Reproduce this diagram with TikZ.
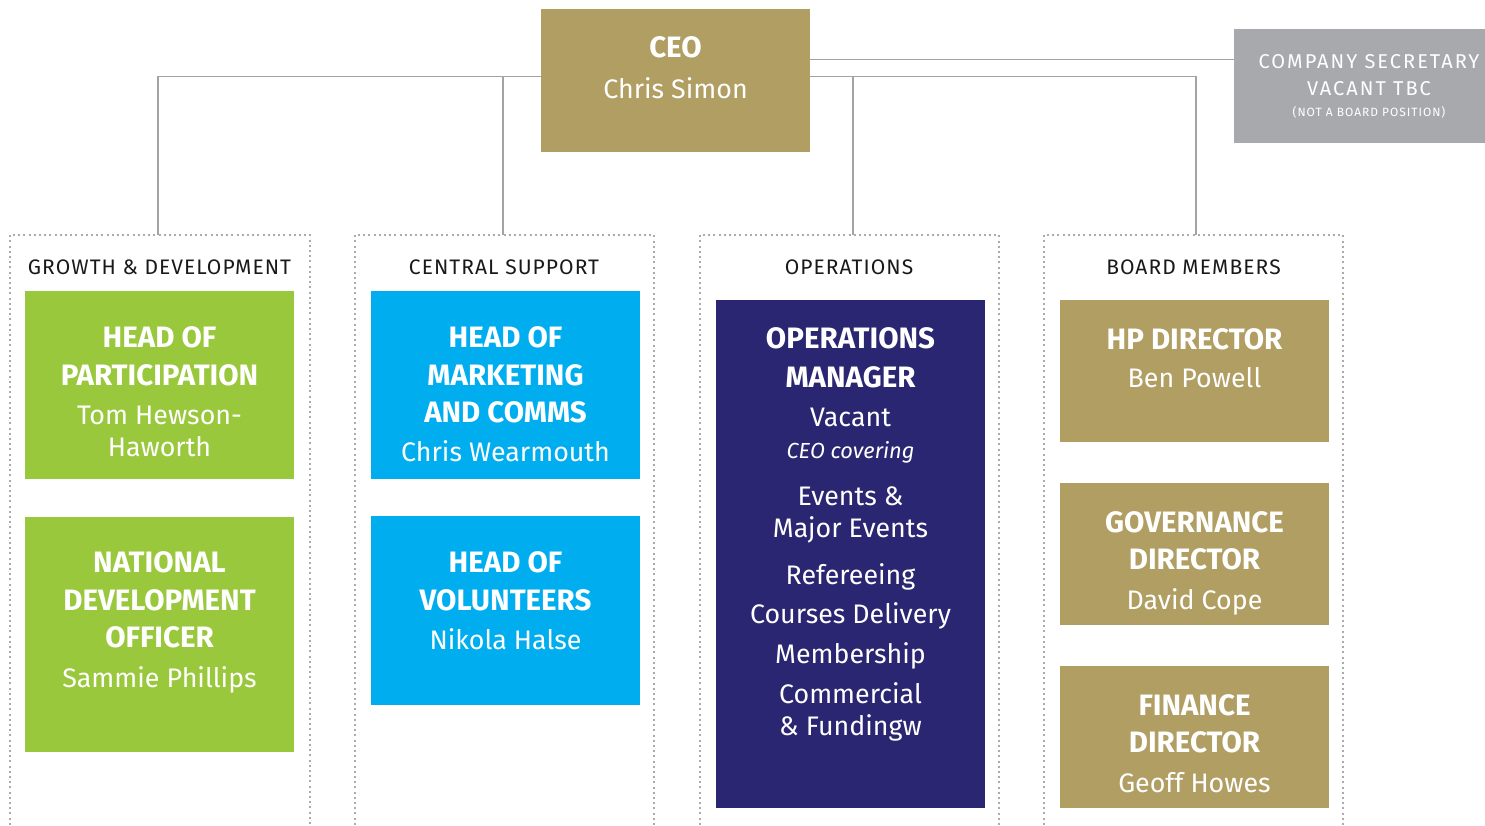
\documentclass[tikz,border=0pt]{standalone}
\usepackage{fontspec}
\setmainfont{Fira Sans}
\definecolor{gold}{HTML}{B19E63}
\definecolor{lgreen}{HTML}{9AC83D}
\definecolor{cyanb}{HTML}{00AEEF}
\definecolor{navy}{HTML}{2B2671}
\definecolor{secgray}{HTML}{A8A9AC}
\definecolor{linegray}{HTML}{A3A3A3}
\definecolor{dotgray}{HTML}{ABABAB}
\tikzset{
  box/.style={draw=none, inner sep=0pt, anchor=north west, minimum width=269pt},
  conn/.style={draw=linegray, line width=1.3pt},
  grpframe/.style={draw=dotgray, line width=2pt, dash pattern=on 2pt off 3.2pt},
  ttl/.style={anchor=base, text=white, inner sep=0pt, font=\fontsize{29.5}{31}\selectfont\bfseries},
  nm/.style={anchor=base, text=white, inner sep=0pt, font=\fontsize{26.8}{28}\selectfont},
  grp/.style={anchor=base, text=black!90, inner sep=0pt, font=\fontsize{21}{23}\selectfont\addfontfeature{LetterSpace=5}},
  sectxt/.style={anchor=base, text=white, inner sep=0pt, font=\fontsize{20}{22}\selectfont\addfontfeature{LetterSpace=10}},
  secsmall/.style={anchor=base, text=white, inner sep=0pt, font=\fontsize{12}{14}\selectfont\addfontfeature{LetterSpace=8}},
}
\begin{document}
\begin{tikzpicture}[x=1pt, y=-1pt]
\useasboundingbox (0,0) rectangle (1485,825);
\clip (0,0) rectangle (1485,825);
% group frames
\draw[grpframe] (10,830) -- (10,235) -- (310,235) -- (310,830);
\draw[grpframe] (355,830) -- (355,235) -- (654,235) -- (654,830);
\draw[grpframe] (700,830) -- (700,235) -- (999,235) -- (999,830);
\draw[grpframe] (1044,830) -- (1044,235) -- (1343,235) -- (1343,830);
\coordinate (j1) at (158,235);
\coordinate (j2) at (503,235);
\coordinate (j3) at (853,235);
\coordinate (j4) at (1196,235);
% boxes
\node[box, fill=gold, minimum height=143pt] (ceo) at (541,9) {};
\node[box, fill=secgray, minimum width=251pt, minimum height=114pt] (sec) at (1234,29) {};
% connectors
\draw[conn] ([yshift=4.5pt]ceo.west) -| (j1);
\draw[conn] ([yshift=4.5pt]ceo.west) -| (j2);
\draw[conn] ([yshift=4.5pt]ceo.east) -| (j3);
\draw[conn] ([yshift=4.5pt]ceo.east) -| (j4);
\draw[conn] ([yshift=21.5pt]ceo.east) -- ([yshift=21.5pt]ceo.east -| sec.west);
\node[box, fill=gold, minimum height=143pt] (ceo2) at (541,9) {};
\node[box, fill=lgreen, minimum height=188pt] (hop) at (25,291) {};
\node[box, fill=lgreen, minimum height=235pt] (ndo) at (25,517) {};
\node[box, fill=cyanb, minimum height=188pt] (hom) at (371,291) {};
\node[box, fill=cyanb, minimum height=189pt] (hov) at (371,516) {};
\node[box, fill=navy, minimum height=508pt] (ops) at (716,300) {};
\node[box, fill=gold, minimum height=142pt] (hpd) at (1060,300) {};
\node[box, fill=gold, minimum height=142pt] (gov) at (1060,483) {};
\node[box, fill=gold, minimum height=142pt] (fin) at (1060,666) {};
% CEO text
\node[ttl] (ceoa) at (675.5,57) {CEO};
\node[nm] (ceob) at (675.5,98) {Chris Simon};
% secretary text
\node[sectxt] (seca) at (1369,68) {COMPANY SECRETARY};
\node[sectxt] (secb) at (1369,95) {VACANT TBC};
\node[secsmall] (secc) at (1369,116) {(NOT A BOARD POSITION)};
% group labels
\node[grp] (g1) at (159.5,274) {GROWTH \& DEVELOPMENT};
\node[grp] (g2) at (504,274) {CENTRAL SUPPORT};
\node[grp] (g3) at (849,274) {OPERATIONS};
\node[grp] (g4) at (1193.5,274) {BOARD MEMBERS};
% head of participation
\node[ttl] (hop1) at (159.5,347) {HEAD OF};
\node[ttl] (hop2) at (159.5,385) {PARTICIPATION};
\node[nm] (hop3) at (159.5,424) {Tom Hewson-};
\node[nm] (hop4) at (159.5,456) {Haworth};
% NDO
\node[ttl] (ndo1) at (159.5,572) {NATIONAL};
\node[ttl] (ndo2) at (159.5,610) {DEVELOPMENT};
\node[ttl] (ndo3) at (159.5,647) {OFFICER};
\node[nm] (ndo4) at (159.5,687) {Sammie Phillips};
% marketing
\node[ttl] (hom1) at (505.5,347) {HEAD OF};
\node[ttl] (hom2) at (505.5,385) {MARKETING};
\node[ttl] (hom3) at (505.5,422) {AND COMMS};
\node[nm] (hom4) at (505.5,461) {Chris Wearmouth};
% volunteers
\node[ttl] (hov1) at (505.5,572) {HEAD OF};
\node[ttl] (hov2) at (505.5,610) {VOLUNTEERS};
\node[nm] (hov3) at (505.5,649) {Nikola Halse};
% operations
\node[ttl] (ops1) at (850.5,348) {OPERATIONS};
\node[ttl] (ops2) at (850.5,387) {MANAGER};
\node[nm] (ops3) at (850.5,426) {Vacant};
\node[anchor=base, text=white, inner sep=0pt, font=\fontsize{21.8}{23}\selectfont\itshape] (ops4) at (850.5,458) {CEO covering};
\node[nm] (ops5) at (850.5,505) {Events \&};
\node[nm] (ops6) at (850.5,537) {Major Events};
\node[nm] (ops7) at (850.5,584) {Refereeing};
\node[nm] (ops8) at (850.5,623) {Courses Delivery};
\node[nm] (ops9) at (850.5,663) {Membership};
\node[nm] (ops10) at (850.5,703) {Commercial};
\node[nm] (ops11) at (850.5,735) {\& Fundingw};
% board
\node[ttl] (hpd1) at (1194.5,349) {HP DIRECTOR};
\node[nm] (hpd2) at (1194.5,387) {Ben Powell};
\node[ttl] (gov1) at (1194.5,532) {GOVERNANCE};
\node[ttl] (gov2) at (1194.5,569) {DIRECTOR};
\node[nm] (gov3) at (1194.5,609) {David Cope};
\node[ttl] (fin1) at (1194.5,715) {FINANCE};
\node[ttl] (fin2) at (1194.5,752) {DIRECTOR};
\node[nm] (fin3) at (1194.5,792) {Geoff Howes};
\end{tikzpicture}
\end{document}
